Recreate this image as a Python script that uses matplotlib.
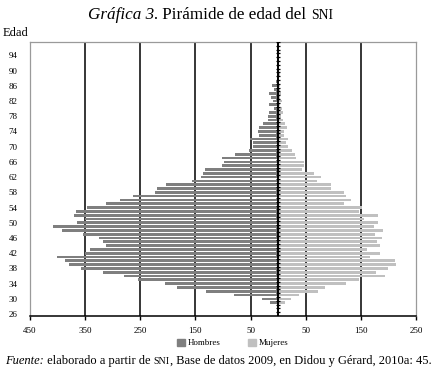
import matplotlib
matplotlib.use('Agg')
import matplotlib.pyplot as plt
from matplotlib.patches import Patch

plt.rcParams['font.family'] = ['Liberation Serif', 'DejaVu Serif']

# edades 26..97
edades = list(range(26, 98))
hombres = [0, 0, 0, 15, 30, 80, 131, 184, 205, 254,
           280, 318, 358, 380, 387, 401, 350, 341, 313, 318,
           324, 354, 392, 409, 364, 351, 371, 367, 347, 313,
           287, 264, 224, 219, 204, 156, 139, 136, 133, 102,
           98, 102, 78, 53, 45, 46, 51, 35, 36, 35,
           27, 19, 18, 16, 7, 16, 9, 13, 16, 7,
           11, 3, 2, 0, 0, 0, 0, 0, 0, 0,
           0, 0]
mujeres = [0, 0, 0, 12, 23, 37, 72, 85, 123, 147,
           193, 178, 200, 214, 212, 167, 185, 161, 184, 179,
           188, 175, 190, 173, 181, 155, 181, 147, 152, 120,
           132, 123, 120, 96, 96, 70, 78, 65, 43, 47,
           47, 32, 30, 26, 18, 15, 18, 11, 10, 16,
           12, 9, 5, 9, 7, 3, 7, 3, 5, 4,
           4, 2, 2, 4, 0, 0, 0, 0, 0, 0,
           0, 0]
xticks = list(range(-450, 251, 100))
yticks = list(range(26, 95, 4))

W, H = 432, 367
fig = plt.figure(figsize=(W / 100, H / 100), dpi=100)
ax = fig.add_axes([30 / W, 51 / H, 386 / W, 274 / H])

c_h = '#7f7f7f'
c_m = '#c0c0c0'
ax.barh(edades, [-v for v in hombres], height=0.72, color=c_h, zorder=2)
ax.barh(edades, mujeres, height=0.72, color=c_m, zorder=2)

for x in [-350, -250, -150, -50, 50, 150]:
    ax.axvline(x, color='black', lw=1.1, zorder=1)

# eje central con marcas
ax.axvline(0, color='black', lw=1.4, zorder=3)
ax.hlines([e - 0.5 for e in edades] + [edades[-1] + 0.5], -4, 4,
          color='black', lw=0.9, zorder=3)

ax.set_xlim(-450, 250)
ax.set_ylim(edades[0] - 0.5, edades[-1] + 0.5)
ax.set_xticks(xticks)
ax.set_xticklabels([str(abs(x)) for x in xticks])
ax.set_yticks(yticks)
ax.tick_params(axis='x', direction='out', length=3, width=1, labelsize=6.5, pad=5)
ax.tick_params(axis='y', length=0, labelsize=6.5, pad=9)

for s in ['top', 'left', 'right']:
    ax.spines[s].set_color('#9a9a9a')
    ax.spines[s].set_linewidth(0.9)
ax.spines['bottom'].set_color('black')
ax.spines['bottom'].set_linewidth(1.1)

handles = [Patch(color=c_h, label='Hombres'), Patch(color=c_m, label='Mujeres')]
fig.legend(handles=handles, loc='center', bbox_to_anchor=(233 / W, 1 - 343 / H),
           ncol=2, frameon=False, fontsize=6.5, handlelength=0.9, handleheight=0.9,
           handletextpad=0.3, columnspacing=3)

fig.text(3 / W, 1 - 33 / H, 'Edad', fontsize=9, va='center', ha='left')

renderer = fig.canvas.get_renderer()


def linea(partes, x0, y, size):
    # partes: (texto, estilo, escala)
    x = x0
    for txt, estilo, esc in partes:
        t = fig.text(x / W, 1 - y / H, txt, fontsize=size * esc, style=estilo,
                     va='baseline', ha='left')
        bb = t.get_window_extent(renderer)
        x += bb.width


linea([('Gráfica 3.', 'italic', 1.0), (' Pirámide de edad del ', 'normal', 1.0),
       ('SNI', 'normal', 0.8)], 88, 19, 12.3)
linea([('Fuente:', 'italic', 1.0), (' elaborado a partir de ', 'normal', 1.0),
       ('SNI', 'normal', 0.8),
       (', Base de datos 2009, en Didou y Gérard, 2010a: 45.', 'normal', 1.0)],
      5, 364, 9.0)

fig.savefig('out.png', dpi=100)
